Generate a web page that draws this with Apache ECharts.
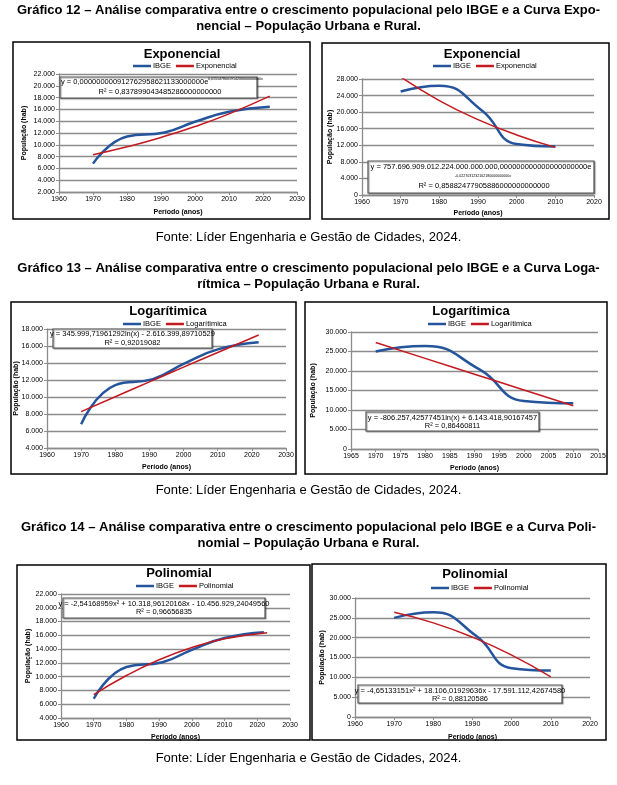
<!DOCTYPE html>
<html><head><meta charset="utf-8">
<script src="https://cdn.jsdelivr.net/npm/echarts@6/dist/echarts.min.js"></script>
<style>html,body{margin:0;padding:0;background:#fff}#c{width:617px;height:785px}</style>
</head><body><div id="c"></div>
<script>
// ---- data ----
const yearsUrb = [1970, 1980, 1991, 2000, 2010, 2022];
const ibgeUrb = [6800, 11400, 12100, 13900, 15600, 16450];
const yearsRur = [1970, 1980, 1991, 2000, 2010];
const ibgeRur = [25000, 26400, 20400, 12300, 11700];

const trendYearsUrb = [1970, 1980, 1990, 2000, 2010, 2022];
const trendYearsRur = [1970, 1980, 1990, 2000, 2010];
const polyYearsUrb = [1970, 1980, 1990, 2000, 2010, 2023];

const expUrb = [8300, 9660, 11250, 13100, 15250, 18250];
const expRur = [28500, 22800, 18200, 14500, 11500];
const logUrb = [8280, 10030, 11780, 13510, 15240, 17300];
const logRur = [27320, 23240, 19180, 15140, 11110];
const polyUrb = [7380, 10170, 12460, 14230, 15500, 16390];
const polyRur = [26390, 23730, 20130, 15600, 10140];

const pageTexts = [
  ['Gráfico 12 – Análise comparativa entre o crescimento populacional pelo IBGE e a Curva Expo-', 10, true],
  ['nencial – População Urbana e Rural.', 26, true],
  ['Fonte: Líder Engenharia e Gestão de Cidades, 2024.', 237, false],
  ['Gráfico 13 – Análise comparativa entre o crescimento populacional pelo IBGE e a Curva Loga-', 268, true],
  ['rítmica – População Urbana e Rural.', 284, true],
  ['Fonte: Líder Engenharia e Gestão de Cidades, 2024.', 490, false],
  ['Gráfico 14 – Análise comparativa entre o crescimento populacional pelo IBGE e a Curva Poli-', 527, true],
  ['nomial – População Urbana e Rural.', 543, true],
  ['Fonte: Líder Engenharia e Gestão de Cidades, 2024.', 758, false]
];

const charts = [
  {title:'Exponencial', tname:'Exponencial', box:[13,42,310,219], plot:[59,74,297,192], tx:182, ty:54, lg:[133,62],
   x:[1960,2030,10], y:[2000,22000,2000], ix:yearsUrb, iv:ibgeUrb, trx:trendYearsUrb, trv:expUrb,
   eq:{box:[60,77,257,98], lines:[
     {t:'y = 0,000000000912762958621133000000e', x:61, y:82, align:'left'},
     {t:'0,0151478001914206000000000x', x:208, y:79, align:'left', sup:true},
     {t:'R² = 0,837899043485286000000000', x:160, y:92}]},
   xt:212, yt:24},
  {title:'Exponencial', tname:'Exponencial', box:[322,43,609,219], plot:[362,79,594,195], tx:482, ty:54, lg:[433,62],
   x:[1960,2020,10], y:[0,28000,4000], ix:yearsRur, iv:ibgeRur, trx:trendYearsRur, trv:expRur,
   eq:{box:[368,161,594,193], lines:[
     {t:'y = 757.696.909.012.224.000.000.000,000000000000000000000e', x:481, y:167},
     {t:'-0,0227031232162180000000000x', x:483, y:176, sup:true},
     {t:'R² = 0,85882477905886000000000000', x:484, y:186}]},
   xt:213, yt:330},
  {title:'Logarítimica', tname:'Logarítimica', box:[11,302,296,474], plot:[47,329,286,448], tx:168, ty:311, lg:[123,320],
   x:[1960,2030,10], y:[4000,18000,2000], ix:yearsUrb, iv:ibgeUrb, trx:trendYearsUrb, trv:logUrb,
   eq:{box:[53,329,212,348], lines:[
     {t:'y = 345.999,71961292ln(x) - 2.616.399,89710529', x:132.5, y:334},
     {t:'R² = 0,92019082', x:132.5, y:343}]},
   xt:467, yt:16},
  {title:'Logarítimica', tname:'Logarítimica', box:[305,302,607,474], plot:[351,332,598,449], tx:471, ty:311, lg:[428,320],
   x:[1965,2015,5], y:[0,30000,5000], ix:yearsRur, iv:ibgeRur, trx:trendYearsRur, trv:logRur,
   eq:{box:[366,412,539,431], lines:[
     {t:'y = -806.257,42577451ln(x) + 6.143.418,90167457', x:452.5, y:417.5},
     {t:'R² = 0,86460811', x:452.5, y:426}]},
   xt:468, yt:313},
  {title:'Polinomial', tname:'Polinomial', box:[17,565,310,740], plot:[61,594,290,718], tx:179, ty:573, lg:[136,582],
   x:[1960,2030,10], y:[4000,22000,2000], ix:yearsUrb, iv:ibgeUrb, trx:polyYearsUrb, trv:polyUrb,
   eq:{box:[63,598,265,618], lines:[
     {t:'y = -2,54168959x² + 10.318,96120168x - 10.456.929,24049560', x:164, y:603.5},
     {t:'R² = 0,96656835', x:164, y:612}]},
   xt:737, yt:28},
  {title:'Polinomial', tname:'Polinomial', box:[312,564,606,740], plot:[355,598,590,717], tx:475, ty:574, lg:[431,584],
   x:[1960,2020,10], y:[0,30000,5000], ix:yearsRur, iv:ibgeRur, trx:trendYearsRur, trv:polyRur,
   eq:{box:[358,685,562,703], lines:[
     {t:'y = -4,65133151x² + 18.106,01929636x - 17.591.112,42674580', x:460, y:690.5},
     {t:'R² = 0,88120586', x:460, y:698.5}]},
   xt:737, yt:322}
];

// ---- build ----
const BLUE = '#24549c', RED = '#c3191f', GRID = '#8c8c8c';
const SANS = "'Liberation Sans', Arial, sans-serif";
const NARROW = "'Liberation Sans Narrow', 'Arial Narrow', 'Liberation Sans', sans-serif";
const fmt = v => v === 0 ? '0' : String(v).replace(/\B(?=(\d{3})+(?!\d))/g, '.');

const grids = [], xAxes = [], yAxes = [], series = [], legends = [], graphics = [];

pageTexts.forEach(([t, y, bold]) => {
  graphics.push({type:'text', style:{text:t, x:308.5, y:y, textAlign:'center', textVerticalAlign:'middle',
    font:(bold ? 'bold ' : '') + '13px ' + NARROW, fill:'#000'}});
});

charts.forEach((c, i) => {
  const [px1, py1, px2, py2] = c.plot;
  grids.push({left:px1, top:py1, width:px2 - px1, height:py2 - py1, show:false});
  xAxes.push({type:'value', gridIndex:i, min:c.x[0], max:c.x[1], interval:c.x[2],
    axisLine:{show:true, lineStyle:{color:GRID, width:1.3}},
    axisTick:{show:true, length:3, lineStyle:{color:GRID}},
    axisLabel:{fontSize:7, color:'#000', margin:4, fontFamily:SANS, formatter:v => String(v)},
    splitLine:{show:false}});
  yAxes.push({type:'value', gridIndex:i, min:c.y[0], max:c.y[1], interval:c.y[2],
    axisLine:{show:true, lineStyle:{color:GRID, width:1.3}},
    axisTick:{show:true, length:3, lineStyle:{color:GRID}},
    axisLabel:{fontSize:7, color:'#000', margin:4, fontFamily:SANS, formatter:fmt},
    splitLine:{show:true, lineStyle:{color:GRID, width:1.3}}});
  series.push({type:'line', name:'IBGE', xAxisIndex:i, yAxisIndex:i, smooth:0.5, symbol:'none',
    lineStyle:{color:BLUE, width:2.5}, itemStyle:{color:BLUE}, z:3,
    data:c.ix.map((x, k) => [x, c.iv[k]])});
  series.push({type:'line', name:c.tname, xAxisIndex:i, yAxisIndex:i, smooth:0.5, symbol:'none',
    lineStyle:{color:RED, width:1.5}, itemStyle:{color:RED}, z:4,
    data:c.trx.map((x, k) => [x, c.trv[k]])});
  legends.push({data:['IBGE', c.tname], left:c.lg[0], top:c.lg[1], itemWidth:18, itemHeight:2.5, icon:'rect',
    itemGap:5, padding:0, textStyle:{fontSize:7.5, fontFamily:SANS, color:'#000', padding:[0,0,0,-3]}, selectedMode:false});

  const [bx1, by1, bx2, by2] = c.box;
  graphics.push({type:'rect', shape:{x:bx1, y:by1, width:bx2 - bx1, height:by2 - by1},
    style:{fill:'none', stroke:'#000', lineWidth:1.5}, z:1});
  graphics.push({type:'text', style:{text:c.title, x:c.tx, y:c.ty, textAlign:'center', textVerticalAlign:'middle',
    font:'bold 13px ' + SANS, fill:'#000'}, z:10});
  graphics.push({type:'text', style:{text:'Período (anos)', x:(px1 + px2) / 2, y:c.xt, textAlign:'center',
    textVerticalAlign:'middle', font:'bold 7px ' + SANS, fill:'#000'}, z:10});
  graphics.push({type:'text', rotation:Math.PI / 2, x:c.yt, y:(py1 + py2) / 2,
    style:{text:'População (hab)', x:0, y:0, textAlign:'center', textVerticalAlign:'middle',
      font:'bold 7px ' + SANS, fill:'#000'}, z:10});
  const [ex1, ey1, ex2, ey2] = c.eq.box;
  graphics.push({type:'rect', shape:{x:ex1, y:ey1, width:ex2 - ex1, height:ey2 - ey1},
    style:{fill:'#fff', stroke:'#555', lineWidth:1.2, shadowColor:'rgba(0,0,0,0.35)', shadowOffsetX:1, shadowOffsetY:1, shadowBlur:1}, z:20});
  c.eq.lines.forEach(l => {
    graphics.push({type:'text', style:{text:l.t, x:l.x, y:l.y, textAlign:l.align || 'center', textVerticalAlign:'middle',
      font:(l.sup ? '3.6px ' : '7.5px ') + SANS, fill:'#000'}, z:21});
  });
});

const chart = echarts.init(document.getElementById('c'), null, {renderer:'canvas'});
chart.setOption({
  backgroundColor:'#fff', animation:false,
  grid:grids, xAxis:xAxes, yAxis:yAxes, series:series, legend:legends, graphic:graphics
});
</script></body></html>
